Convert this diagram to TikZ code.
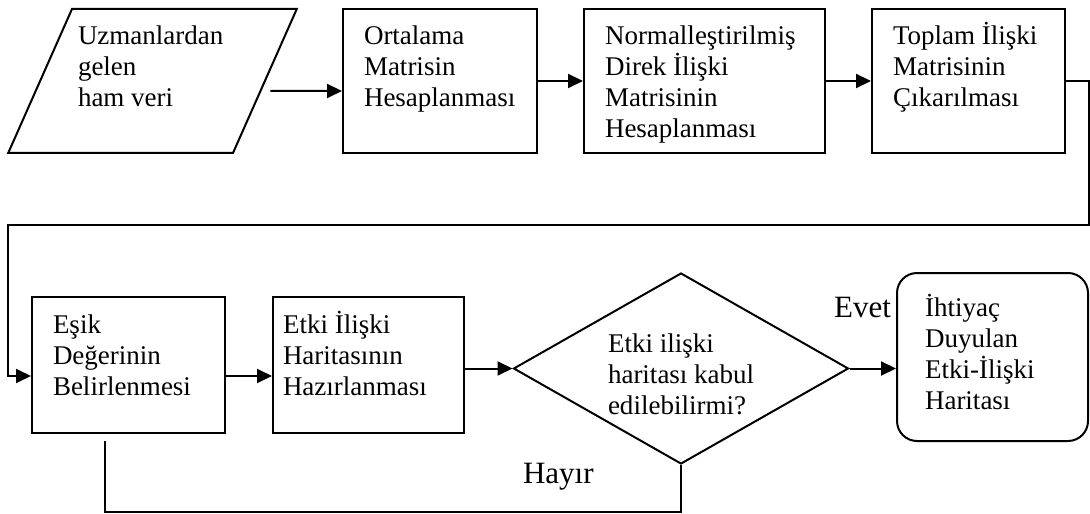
\documentclass[tikz,border=0pt]{standalone}
\usepackage{fontspec}
\setmainfont{Liberation Serif}
\usetikzlibrary{arrows.meta,shapes.geometric}

\tikzset{every picture/.style={line width=1pt}}
\newcommand{\flowtext}[4][18pt]{\parbox[c][#3][t]{#2}{\raggedright\rule{0pt}{#1}#4}}

\begin{document}
\begin{tikzpicture}[>={Triangle[length=7.5pt,width=7pt]},x=0.5pt,y=-0.5pt,
    font=\fontsize{13.5pt}{15.5pt}\selectfont,
    proc/.style={draw,inner ysep=0pt,inner xsep=10.5pt},
    datain/.style={draw,trapezium,trapezium left angle=67.7,trapezium right angle=112.3,
      trapezium stretches=true,minimum width=144.5pt,minimum height=72pt,inner sep=0pt},
    decision/.style={draw,diamond,aspect=1.75,minimum width=167.5pt,minimum height=95.5pt,
      inner sep=0pt},
    endbox/.style={draw,rounded corners=10pt,inner ysep=0pt,inner xsep=14pt},
    answer/.style={inner sep=0pt,font=\fontsize{15.5pt}{18pt}\selectfont}]
  \useasboundingbox (0,0) rectangle (1090,513);
  \node[datain] (src) at (152.5,81) {\flowtext{74.5pt}{72pt}{Uzmanlardan\\gelen\\ham veri}};
  \node[proc] (avg) at (440,81) {\flowtext{76pt}{72pt}{Ortalama\\Matrisin\\Hesaplanması}};
  \node[proc] (norm) at (704.5,81) {\flowtext{99.5pt}{72pt}{Normalleştirilmiş\\Direk İlişki\\Matrisinin\\Hesaplanması}};
  \node[proc] (total) at (968.5,81) {\flowtext{75.5pt}{72pt}{Toplam İlişki\\Matrisinin\\Çıkarılması}};
  \node[proc] (esik) at (128.5,365) {\flowtext{75.5pt}{68pt}{Eşik\\Değerinin\\Belirlenmesi}};
  \node[proc,inner xsep=5pt] (etki) at (368.5,365) {\flowtext{85.5pt}{68pt}{Etki İlişki\\Haritasının\\Hazırlanması}};
  \node[decision] (check) at (681,368.5) {\flowtext[16.75pt]{73pt}{50pt}{Etki ilişki\\haritası kabul\\edilebilirmi?}};
  \node[endbox] (map) at (992.5,357) {\flowtext[21.5pt]{67.5pt}{84pt}{İhtiyaç\\Duyulan\\Etki-İlişki\\Haritası}};
  \node[answer,anchor=base east] (yes) at (892,317) {Evet};
  \node[answer,anchor=base west] (no) at (522,483) {Hayır};
  \coordinate (back) at (8,225);

  \draw[->,shorten <=2.25pt] ([yshift=-5pt]src.east) -- ([yshift=-5pt]avg.west);
  \draw[->] (avg) -- (norm);
  \draw[->] (norm) -- (total);
  \draw[->] (total.east) -- ++(11.5pt,0) |- (back) |- ([yshift=-5.5pt]esik.west);
  \draw[->] ([yshift=-5.5pt]esik.east) -- ([yshift=-5.5pt]etki.west);
  \draw[->] ([yshift=-1.75pt]etki.east) -- (check.west);
  \draw[->] (check.east) -- (check.east -| map.west);
  \draw ([xshift=-11.75pt,yshift=-3.5pt]esik.south) |- ([yshift=-23.5pt]check.south) -- (check.south);
\end{tikzpicture}
\end{document}
